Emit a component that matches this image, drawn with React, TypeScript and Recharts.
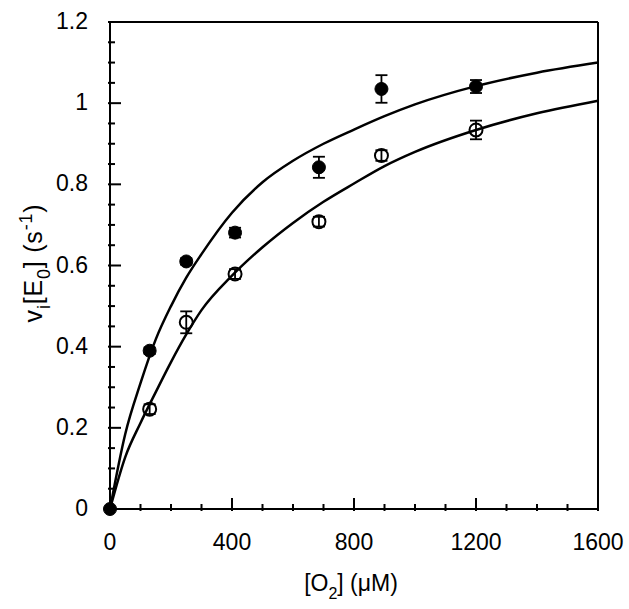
import { ComposedChart, XAxis, YAxis, Line, Scatter, ErrorBar } from 'recharts';

const FONT = '"Liberation Sans", Arial, Helvetica, sans-serif';

// measured rates, filled circles
const filledX = [0, 130, 250, 410, 685, 890, 1200];
const filledY = [0, 0.39, 0.61, 0.681, 0.842, 1.035, 1.041];
const filledErr = [0, 0.008, 0.008, 0.012, 0.026, 0.034, 0.016];

// measured rates, open circles
const openX = [130, 250, 410, 685, 890, 1200];
const openY = [0.246, 0.46, 0.579, 0.708, 0.871, 0.934];
const openErr = [0.012, 0.027, 0.012, 0.012, 0.013, 0.023];

// fitted curves
const curveX = [0, 50, 100, 150, 200, 250, 300, 400, 500, 600, 700, 800, 900, 1000, 1200, 1400, 1600];
const upperCurveY = [0, 0.185, 0.31, 0.418, 0.5, 0.57, 0.628, 0.73, 0.805, 0.858, 0.9, 0.935, 0.968, 0.997, 1.042, 1.075, 1.1];
const lowerCurveY = [0, 0.128, 0.212, 0.288, 0.362, 0.43, 0.49, 0.575, 0.645, 0.705, 0.757, 0.802, 0.845, 0.88, 0.934, 0.975, 1.006];

const xTicks = [0, 100, 200, 300, 400, 500, 600, 700, 800, 900, 1000, 1100, 1200, 1300, 1400, 1500, 1600];
const yTicks = [
  0, 0.05, 0.1, 0.15, 0.2, 0.25, 0.3, 0.35, 0.4, 0.45, 0.5, 0.55, 0.6,
  0.65, 0.7, 0.75, 0.8, 0.85, 0.9, 0.95, 1, 1.05, 1.1, 1.15, 1.2,
];

const filledData = filledX.map((x, i) => ({ x, y: filledY[i], err: filledErr[i] }));
const openData = openX.map((x, i) => ({ x, y: openY[i], err: openErr[i] }));
const upperCurve = curveX.map((x, i) => ({ x, y: upperCurveY[i] }));
const lowerCurve = curveX.map((x, i) => ({ x, y: lowerCurveY[i] }));

const MAJOR = 13;
const MINOR = 7;
const isMajorX = (v: number) => v % 400 === 0;
const isMajorY = (v: number) => Math.abs(v * 5 - Math.round(v * 5)) < 1e-6;
const fmtY = (v: number) => String(Math.round(v * 10) / 10);

const labelStyle = { fontFamily: FONT, fontSize: 23, fill: '#000' };

function BottomTick({ x, y, payload }: any) {
  const major = isMajorX(payload.value);
  return (
    <g>
      <line x1={x} x2={x} y1={y} y2={y - (major ? MAJOR : MINOR)} stroke="#000" strokeWidth={2} />
      {major && (
        <text x={x} y={y + 39} textAnchor="middle" {...labelStyle}>
          {payload.value}
        </text>
      )}
    </g>
  );
}

function TopTick({ x, y, payload }: any) {
  const major = isMajorX(payload.value);
  return <line x1={x} x2={x} y1={y} y2={y + (major ? MAJOR : MINOR)} stroke="#000" strokeWidth={2} />;
}

function LeftTick({ x, y, payload }: any) {
  const major = isMajorY(payload.value);
  return (
    <g>
      <line x1={x} x2={x + (major ? MAJOR : MINOR)} y1={y} y2={y} stroke="#000" strokeWidth={2} />
      {major && (
        <text x={x - 20} y={y + 7} textAnchor="end" {...labelStyle}>
          {fmtY(payload.value)}
        </text>
      )}
    </g>
  );
}

function RightTick({ x, y, payload }: any) {
  const major = isMajorY(payload.value);
  return <line x1={x} x2={x - (major ? MAJOR : MINOR)} y1={y} y2={y} stroke="#000" strokeWidth={2} />;
}

const XTitle = () => (
  <text x={351} y={591} textAnchor="middle" {...labelStyle}>
    [O
    <tspan dy={8} fontSize={16}>2</tspan>
    <tspan dy={-8}>] (μM)</tspan>
  </text>
);

const YTitle = () => (
  <text
    x={42}
    y={263}
    textAnchor="middle"
    transform="rotate(-90, 42, 263)"
    {...labelStyle}
    fontSize={25}
    letterSpacing={0.8}
  >
    v
    <tspan dy={8} fontSize={18}>i</tspan>
    <tspan dy={-8}>[E</tspan>
    <tspan dy={8} fontSize={18}>0</tspan>
    <tspan dy={-8}>] (s</tspan>
    <tspan dy={-10} fontSize={18}>-1</tspan>
    <tspan dy={10}>)</tspan>
  </text>
);

const FilledDot = (p: any) => <circle cx={p.cx} cy={p.cy} r={6.5} fill="#000" stroke="#000" />;
const OpenDot = (p: any) => <circle cx={p.cx} cy={p.cy} r={6.5} fill="none" stroke="#000" strokeWidth={2} />;

const axisLine = { stroke: '#000', strokeWidth: 2 };

export default function App() {
  return (
    <div style={{ position: 'absolute', left: 0, top: 0, background: '#fff' }}>
      <ComposedChart width={629} height={609} margin={{ top: 12, right: 21, bottom: 40, left: 50 }}>
        <XAxis
          dataKey="x"
          type="number"
          domain={[0, 1600]}
          ticks={xTicks}
          interval={0}
          height={60}
          tickSize={0}
          tickLine={false}
          tick={<BottomTick />}
          axisLine={axisLine}
          label={{ content: XTitle }}
        />
        <XAxis
          xAxisId="top"
          orientation="top"
          type="number"
          domain={[0, 1600]}
          ticks={xTicks}
          interval={0}
          height={10}
          tickSize={0}
          tickLine={false}
          tick={<TopTick />}
          axisLine={axisLine}
        />
        <YAxis
          dataKey="y"
          type="number"
          domain={[0, 1.2]}
          ticks={yTicks}
          interval={0}
          width={60}
          tickSize={0}
          tickLine={false}
          tick={<LeftTick />}
          axisLine={axisLine}
          label={{ content: YTitle }}
        />
        <YAxis
          yAxisId="right"
          orientation="right"
          type="number"
          domain={[0, 1.2]}
          ticks={yTicks}
          interval={0}
          width={10}
          tickSize={0}
          tickLine={false}
          tick={<RightTick />}
          axisLine={axisLine}
        />
        <Line
          data={upperCurve}
          dataKey="y"
          type="monotone"
          dot={false}
          stroke="#000"
          strokeWidth={2.5}
          isAnimationActive={false}
        />
        <Line
          data={lowerCurve}
          dataKey="y"
          type="monotone"
          dot={false}
          stroke="#000"
          strokeWidth={2.5}
          isAnimationActive={false}
        />
        <Scatter data={openData} dataKey="y" shape={OpenDot} isAnimationActive={false}>
          <ErrorBar dataKey="err" direction="y" width={6} stroke="#000" strokeWidth={1.8} />
        </Scatter>
        <Scatter data={filledData} dataKey="y" shape={FilledDot} isAnimationActive={false}>
          <ErrorBar dataKey="err" direction="y" width={6} stroke="#000" strokeWidth={1.8} />
        </Scatter>
      </ComposedChart>
    </div>
  );
}
